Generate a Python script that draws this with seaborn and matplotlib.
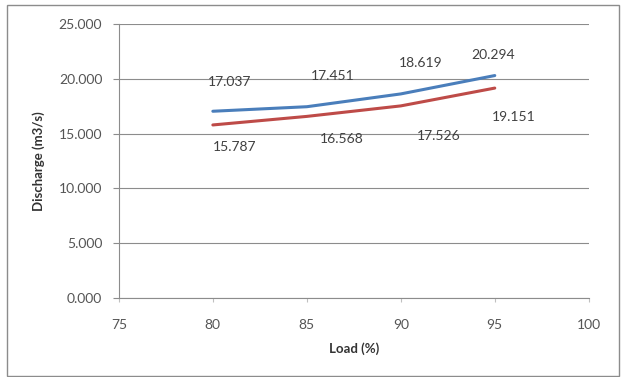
import matplotlib
matplotlib.use("Agg")
import matplotlib.pyplot as plt
import seaborn as sns
import pandas as pd

# Discharge versus load for two series
load = [80, 85, 90, 95]
discharge_1 = [17.037, 17.451, 18.619, 20.294]
discharge_2 = [15.787, 16.568, 17.526, 19.151]

x_ticks = [75, 80, 85, 90, 95, 100]
y_ticks = [0, 5, 10, 15, 20, 25]

df = pd.DataFrame({
    "Load (%)": load * 2,
    "Discharge (m3/s)": discharge_1 + discharge_2,
    "Series": ["Series 1"] * len(load) + ["Series 2"] * len(load),
})

sns.set_theme(style="white")
plt.rcParams["font.family"] = ["Lato", "DejaVu Sans"]

fig = plt.figure(figsize=(6.29, 3.77), dpi=100)
ax = fig.add_axes([0.189, 0.2096, 0.747, 0.7268])

sns.lineplot(
    data=df, x="Load (%)", y="Discharge (m3/s)", hue="Series",
    palette=["#4A7EBB", "#BE4B48"], linewidth=2.2, legend=False, ax=ax,
)

ax.set_xlim(75, 100)
ax.set_ylim(0, 25)
ax.set_xticks(x_ticks)
ax.set_xticklabels([str(v) for v in x_ticks])
ax.set_yticks(y_ticks)
ax.set_yticklabels([f"{v:.3f}" for v in y_ticks])

ax.yaxis.grid(True, color="#8c8c8c", linewidth=0.8)
ax.xaxis.grid(False)
for side in ("top", "right"):
    ax.spines[side].set_visible(False)
for side in ("left", "bottom"):
    ax.spines[side].set_color("#8c8c8c")
    ax.spines[side].set_linewidth(0.8)

ax.tick_params(axis="y", which="major", length=4, width=0.8, color="#8c8c8c",
               direction="out", left=True, pad=8, labelsize=10, labelcolor="#555555")
ax.tick_params(axis="x", which="major", length=3, width=0.8, color="#c0c0c0",
               direction="out", bottom=True, pad=12, labelsize=10, labelcolor="#555555")

ax.set_xlabel("Load (%)", fontsize=9.5, fontweight="bold", color="#333333", labelpad=8)
ax.set_ylabel("Discharge (m3/s)", fontsize=9.5, fontweight="bold", color="#333333", labelpad=10)

# Data labels (offsets in points)
offsets_1 = [(12, 21), (19, 22), (14, 22), (-1, 15)]
offsets_2 = [(16, -16), (25, -16), (27, -22), (14, -21)]
for x, y, (dx, dy) in zip(load, discharge_1, offsets_1):
    ax.annotate(f"{y:.3f}", (x, y), xytext=(dx, dy), textcoords="offset points",
                ha="center", va="center", fontsize=10, color="#404040")
for x, y, (dx, dy) in zip(load, discharge_2, offsets_2):
    ax.annotate(f"{y:.3f}", (x, y), xytext=(dx, dy), textcoords="offset points",
                ha="center", va="center", fontsize=10, color="#404040")

# Chart frame
fig.patches.append(plt.Rectangle((0.011, 0.003), 0.973, 0.985, transform=fig.transFigure,
                                 fill=False, edgecolor="#8c8c8c", linewidth=1.0))

fig.savefig("out.png", dpi=100)
